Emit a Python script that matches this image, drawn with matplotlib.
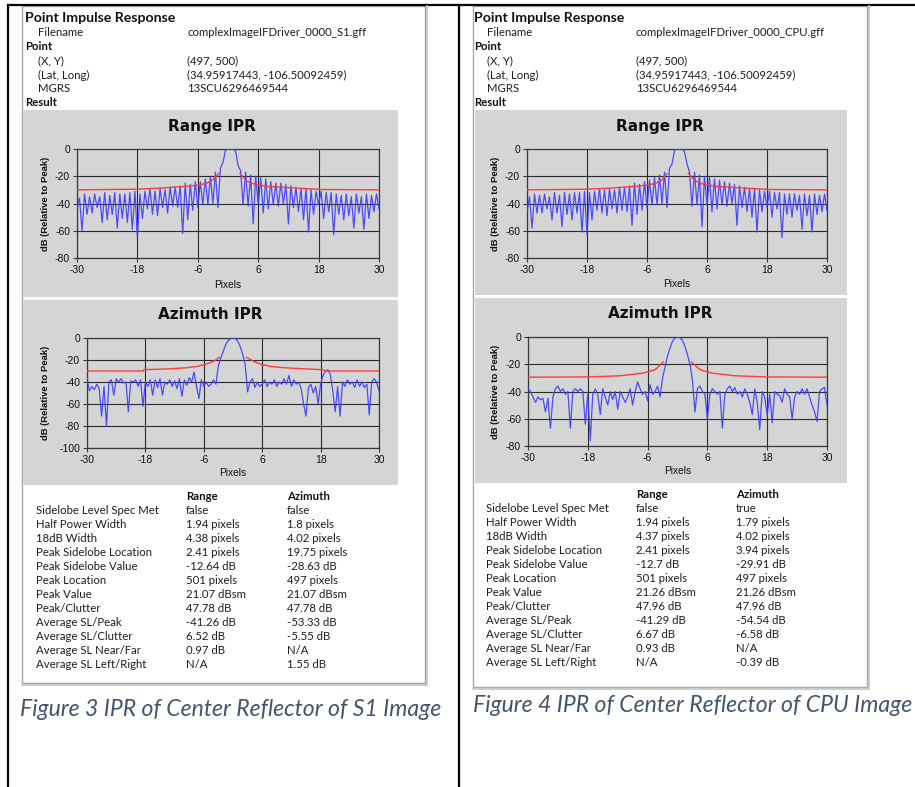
import numpy as np
import matplotlib
matplotlib.use('Agg')
import matplotlib.pyplot as plt
from matplotlib.patches import Rectangle
from matplotlib.lines import Line2D

plt.rcParams['axes.unicode_minus'] = False

# ---------------- data ----------------
x_start, x_step = -30.0, 0.5   # sampling grid of the IPR cuts (pixels)

range_s1 = [
    -44, -36, -60, -33, -48, -35, -47, -33, -43, -35,
    -54, -32, -52, -34, -48, -32, -58, -33, -51, -33,
    -54, -32, -59, -31, -65, -33, -51, -31, -44, -29,
    -48, -31, -49, -29, -43, -30, -47, -28, -42, -28,
    -43, -27, -62, -25, -52, -26, -45, -24, -43, -24,
    -41, -22, -41, -20, -40, -17, -43, -14, -10, -1,
    0, -0.3, 0, -1.5, -12, -16, -41, -17, -42, -19,
    -55, -20, -41, -21, -47, -22, -44, -24, -41, -25,
    -42, -25, -40, -26, -55, -27, -43, -28, -46, -29,
    -52, -29, -61, -30, -48, -31, -41, -31, -51, -32,
    -46, -32, -63, -33, -48, -34, -52, -33, -49, -35,
    -58, -33, -47, -35, -59, -33, -51, -34, -46, -33,
    -44]

azimuth_s1 = [
    -37, -48, -44, -47, -42, -46, -71, -44, -80, -40,
    -38, -52, -37, -40, -37, -41, -40, -67, -39, -40,
    -38, -44, -38, -62, -40, -44, -38, -52, -38, -45,
    -37, -52, -40, -42, -38, -44, -39, -46, -37, -53,
    -38, -43, -36, -40, -31, -44, -55, -38, -44, -40,
    -44, -42, -38, -42, -25, -18, -12, -6, -2.5, -0.5,
    0, -0.5, -3, -8, -15, -24, -49, -40, -37, -45,
    -40, -44, -42, -38, -44, -40, -42, -38, -44, -40,
    -42, -37, -42, -34, -44, -38, -42, -40, -46, -60,
    -71, -45, -42, -50, -44, -60, -42, -34, -30, -29,
    -33, -48, -67, -44, -71, -40, -44, -38, -42, -40,
    -45, -38, -44, -40, -45, -42, -70, -40, -37, -40,
    -48]

range_cpu = [
    -46, -35, -58, -33, -47, -34, -47, -33, -44, -35,
    -52, -32, -47, -34, -57, -32, -48, -33, -52, -32,
    -47, -32, -61, -31, -63, -32, -52, -31, -45, -29,
    -47, -30, -49, -29, -44, -30, -47, -28, -45, -28,
    -46, -27, -56, -25, -48, -26, -45, -24, -43, -23,
    -41, -21, -41, -19, -40, -17, -43, -14, -11, -1,
    0, -0.3, 0, -2, -11, -17, -42, -17, -41, -19,
    -57, -20, -41, -21, -46, -22, -44, -23, -41, -24,
    -42, -25, -40, -26, -56, -27, -43, -28, -46, -29,
    -50, -29, -61, -30, -46, -31, -43, -31, -50, -32,
    -44, -32, -65, -33, -48, -33, -50, -33, -45, -34,
    -59, -33, -49, -34, -61, -33, -48, -34, -46, -33,
    -45]

azimuth_cpu = [
    -38, -40, -44, -48, -44, -46, -45, -55, -45, -67,
    -44, -38, -36, -40, -38, -42, -40, -67, -40, -38,
    -40, -38, -40, -64, -42, -76, -42, -38, -42, -57,
    -38, -44, -50, -40, -46, -40, -53, -40, -44, -48,
    -44, -38, -50, -40, -33, -38, -42, -40, -47, -35,
    -42, -40, -36, -44, -30, -22, -14, -8, -3, -1,
    0, -0.5, -2.5, -7, -13, -20, -32, -55, -38, -36,
    -40, -42, -60, -42, -38, -40, -42, -40, -67, -42,
    -38, -36, -40, -37, -42, -40, -44, -38, -42, -48,
    -57, -38, -48, -68, -40, -44, -58, -42, -63, -40,
    -42, -43, -48, -38, -42, -44, -60, -44, -40, -42,
    -38, -42, -38, -44, -50, -55, -62, -40, -38, -37,
    -50]

# sidelobe masks (red lines), left and right branches
rmask_s1_lx = [-30, -18, -12.9, -8.3, -6, -4.3, -3, -1.8]
rmask_s1_ly = [-30, -29.5, -28.6, -27.4, -26.5, -25.2, -22.5, -18]
rmask_s1_rx = [2.4, 3.7, 5.0, 7.7, 11.6, 15.6, 18.3, 30]
rmask_s1_ry = [-18, -23.5, -25.5, -27.4, -28.3, -29.1, -29.7, -30]

amask_s1_lx = [-30, -18.4, -18.3, -12.9, -9.5, -7.4, -5.4, -4, -2.8]
amask_s1_ly = [-30, -30, -28.8, -28, -27, -25.8, -23.6, -21.2, -17.6]
amask_s1_rx = [2.8, 4.2, 5.6, 7.6, 10.4, 14.5, 18.2, 19.2, 30]
amask_s1_ry = [-17.6, -21.2, -23.6, -25.8, -27, -28, -28.8, -30, -30]

rmask_cpu_lx = [-30, -18, -12.9, -8.3, -6, -4.3, -3, -2.0]
rmask_cpu_ly = [-30, -29.5, -28.6, -27.4, -26.5, -25.2, -22.5, -18]
rmask_cpu_rx = [2.3, 3.7, 5.0, 7.7, 11.6, 15.6, 18.3, 30]
rmask_cpu_ry = [-18, -23.5, -25.5, -27.4, -28.3, -29.1, -29.7, -30]

amask_cpu_lx = [-30, -18, -11.6, -6.9, -4.5, -2.85]
amask_cpu_ly = [-29.5, -29.3, -28.5, -26.5, -24, -18.4]
amask_cpu_rx = [2.85, 4.5, 6.9, 11.6, 18, 30]
amask_cpu_ry = [-18.4, -24, -26.5, -28.5, -29.3, -29.5]

x_ticks = [-30, -18, -6, 6, 18, 30]

header_labels = ["Filename", "(X, Y)", "(Lat, Long)", "MGRS"]
point_xy = "(497, 500)"
point_latlong = "(34.95917443, -106.50092459)"
point_mgrs = "13SCU6296469544"
file_s1 = "complexImageIFDriver_0000_S1.gff"
file_cpu = "complexImageIFDriver_0000_CPU.gff"

metric_names = ["Sidelobe Level Spec Met", "Half Power Width", "18dB Width",
                "Peak Sidelobe Location", "Peak Sidelobe Value", "Peak Location",
                "Peak Value", "Peak/Clutter", "Average SL/Peak", "Average SL/Clutter",
                "Average SL Near/Far", "Average SL Left/Right"]
s1_range_vals = ["false", "1.94 pixels", "4.38 pixels", "2.41 pixels", "-12.64 dB",
                 "501 pixels", "21.07 dBsm", "47.78 dB", "-41.26 dB", "6.52 dB",
                 "0.97 dB", "N/A"]
s1_az_vals = ["false", "1.8 pixels", "4.02 pixels", "19.75 pixels", "-28.63 dB",
              "497 pixels", "21.07 dBsm", "47.78 dB", "-53.33 dB", "-5.55 dB",
              "N/A", "1.55 dB"]
cpu_range_vals = ["false", "1.94 pixels", "4.37 pixels", "2.41 pixels", "-12.7 dB",
                  "501 pixels", "21.26 dBsm", "47.96 dB", "-41.29 dB", "6.67 dB",
                  "0.93 dB", "N/A"]
cpu_az_vals = ["true", "1.79 pixels", "4.02 pixels", "3.94 pixels", "-29.91 dB",
               "497 pixels", "21.26 dBsm", "47.96 dB", "-54.54 dB", "-6.58 dB",
               "N/A", "-0.39 dB"]

caption_s1 = "Figure 3 IPR of Center Reflector of S1 Image"
caption_cpu = "Figure 4 IPR of Center Reflector of CPU Image"

# ---------------- figure ----------------
W, H = 915, 787
fig = plt.figure(figsize=(W / 100, H / 100), dpi=100)
fig.patch.set_facecolor('white')

def fx(x):
    return x / W

def fy(y):
    return 1 - y / H

def rect(x0, y0, x1, y1, **kw):
    r = Rectangle((fx(x0), fy(y1)), (x1 - x0) / W, (y1 - y0) / H,
                  transform=fig.transFigure, figure=fig, **kw)
    fig.patches.append(r)

def line(xs, ys, **kw):
    fig.add_artist(Line2D([fx(v) for v in xs], [fy(v) for v in ys],
                          transform=fig.transFigure, **kw))

def text(x, y, s, **kw):
    kw.setdefault('va', 'center')
    kw.setdefault('ha', 'left')
    fig.text(fx(x), fy(y), s, **kw)

UI_FONT = 'Lato'
CHART_FONT = 'Liberation Sans'
TXT = '#1e1e1e'
GRAY_BG = '#d5d5d5'

# document table lines
line([8, 915], [5, 5], color='black', lw=1.6)
line([7.5, 7.5], [5, 787], color='black', lw=1.6)
line([459, 459], [5, 787], color='black', lw=1.6)


def chart(box, gray, ycap, title, title_xy, y, lx, ly, rx, ry, ylim, yticks, ylab_x):
    x0, y0, x1, y1 = box
    rect(*gray, facecolor=GRAY_BG, edgecolor='none', zorder=-2)
    ax = fig.add_axes([fx(x0), fy(y1), (x1 - x0) / W, (y1 - y0) / H])
    ax.set_facecolor(GRAY_BG)
    xs = x_start + x_step * np.arange(len(y))
    ax.plot(xs, y, color='#3c3cff', lw=0.9, alpha=0.9, zorder=3)
    ax.plot(lx, ly, color='#ff3b3b', lw=1.0, zorder=4)
    ax.plot(rx, ry, color='#ff3b3b', lw=1.0, zorder=4)
    ax.set_xlim(-30, 30)
    ax.set_ylim(*ylim)
    ax.set_xticks(x_ticks)
    ax.set_yticks(yticks)
    ax.grid(True, color='#2b2b2b', lw=0.8, zorder=1)
    ax.set_axisbelow(True)
    for sp in ax.spines.values():
        sp.set_color('#3a3a3a')
        sp.set_linewidth(0.9)
    ax.tick_params(length=3, width=0.8, color='#3a3a3a', pad=2, labelsize=7.5,
                   labelcolor='#111111')
    for lab in ax.get_xticklabels() + ax.get_yticklabels():
        lab.set_fontfamily(CHART_FONT)
    text(title_xy[0], title_xy[1], title, ha='center', fontsize=11,
         fontweight='bold', family='DejaVu Sans', color='#111111')
    text((x0 + x1) / 2, ycap, "Pixels", ha='center', fontsize=7.3,
         family=CHART_FONT, color='#111111')
    text(ylab_x, (y0 + y1) / 2, "dB (Relative to Peak)", ha='center', rotation=90,
         fontsize=6.8, fontweight='bold', family=CHART_FONT, color='#111111')
    return ax


def panel(P):
    # panel frame
    bx0, by0, bx1, by1 = P['frame']
    rect(bx0, by0, bx1, by1, facecolor='white', edgecolor='#a8a8a8', lw=1.0, zorder=-3)
    line([bx1 + 2, bx1 + 2], [by0, by1 + 2], color='#c4c4c4', lw=1.2)
    line([bx0, bx1 + 2], [by1 + 2, by1 + 2], color='#c4c4c4', lw=1.2)
    hx, ix, vx = P['hx'], P['ix'], P['vx']
    fs = 8.2
    text(hx, 18, "Point Impulse Response", fontsize=10.2, fontweight='bold',
         family=UI_FONT, color='#111111')
    text(ix, 33, header_labels[0], fontsize=fs, family=UI_FONT, color=TXT)
    text(vx, 33, P['file'], fontsize=fs, family=UI_FONT, color=TXT)
    text(hx, 47, "Point", fontsize=fs, fontweight='bold', family=UI_FONT, color='#111111')
    text(ix, 61, header_labels[1], fontsize=fs, family=UI_FONT, color=TXT)
    text(vx, 61, point_xy, fontsize=fs, family=UI_FONT, color=TXT)
    text(ix, 75, header_labels[2], fontsize=fs, family=UI_FONT, color=TXT)
    text(vx, 75, point_latlong, fontsize=fs, family=UI_FONT, color=TXT)
    text(ix, 89, header_labels[3], fontsize=fs, family=UI_FONT, color=TXT)
    text(vx, 89, point_mgrs, fontsize=fs, family=UI_FONT, color=TXT)
    text(hx, 103, "Result", fontsize=fs, fontweight='bold', family=UI_FONT, color='#111111')

    chart(P['r_box'], P['r_gray'], P['r_cap'], "Range IPR", P['r_title'], P['r_y'],
          P['r_lx'], P['r_ly'], P['r_rx'], P['r_ry'], (-80, 0),
          [0, -20, -40, -60, -80], P['ylab_x'])
    chart(P['a_box'], P['a_gray'], P['a_cap'], "Azimuth IPR", P['a_title'], P['a_y'],
          P['a_lx'], P['a_ly'], P['a_rx'], P['a_ry'], P['a_ylim'],
          P['a_yticks'], P['ylab_x'])

    tx0, tx1, tx2 = P['tx']
    ty = P['ty']
    text(tx1, ty, "Range", fontsize=fs, fontweight='bold', family=UI_FONT, color='#111111')
    text(tx2, ty, "Azimuth", fontsize=fs, fontweight='bold', family=UI_FONT, color='#111111')
    for k, name in enumerate(metric_names):
        yy = ty + 14 + 14 * k
        text(tx0, yy, name, fontsize=fs, family=UI_FONT, color=TXT)
        text(tx1, yy, P['rv'][k], fontsize=fs, family=UI_FONT, color=TXT)
        text(tx2, yy, P['av'][k], fontsize=fs, family=UI_FONT, color=TXT)

    text(P['cap_xy'][0], P['cap_xy'][1], P['caption'], fontsize=16.6,
         style='italic', family=UI_FONT, color='#44546a')


left = dict(
    frame=(22, 6, 425, 683), hx=25, ix=38, vx=187, file=file_s1,
    r_box=(77, 149, 379, 258), r_gray=(23, 110, 398, 297), r_cap=285, r_title=(212, 127),
    r_y=range_s1, r_lx=rmask_s1_lx, r_ly=rmask_s1_ly, r_rx=rmask_s1_rx, r_ry=rmask_s1_ry,
    a_box=(87, 338, 379, 448), a_gray=(23, 300, 398, 485), a_cap=473, a_title=(210, 315),
    a_y=azimuth_s1, a_lx=amask_s1_lx, a_ly=amask_s1_ly, a_rx=amask_s1_rx, a_ry=amask_s1_ry,
    a_ylim=(-100, 0), a_yticks=[0, -20, -40, -60, -80, -100], ylab_x=45,
    tx=(36, 186, 287), ty=496, rv=s1_range_vals, av=s1_az_vals,
    caption=caption_s1, cap_xy=(20, 710))

right = dict(
    frame=(473, 6, 867, 687), hx=474, ix=487, vx=636, file=file_cpu,
    r_box=(527, 149, 827, 258), r_gray=(475, 110, 847, 295), r_cap=284, r_title=(660, 126),
    r_y=range_cpu, r_lx=rmask_cpu_lx, r_ly=rmask_cpu_ly, r_rx=rmask_cpu_rx, r_ry=rmask_cpu_ry,
    a_box=(528, 337, 827, 446), a_gray=(475, 298, 847, 483), a_cap=471, a_title=(660, 314),
    a_y=azimuth_cpu, a_lx=amask_cpu_lx, a_ly=amask_cpu_ly, a_rx=amask_cpu_rx, a_ry=amask_cpu_ry,
    a_ylim=(-80, 0), a_yticks=[0, -20, -40, -60, -80], ylab_x=495,
    tx=(486, 636, 736), ty=494, rv=cpu_range_vals, av=cpu_az_vals,
    caption=caption_cpu, cap_xy=(473, 705))

panel(left)
panel(right)

fig.savefig('out.png', dpi=100, facecolor='white')
